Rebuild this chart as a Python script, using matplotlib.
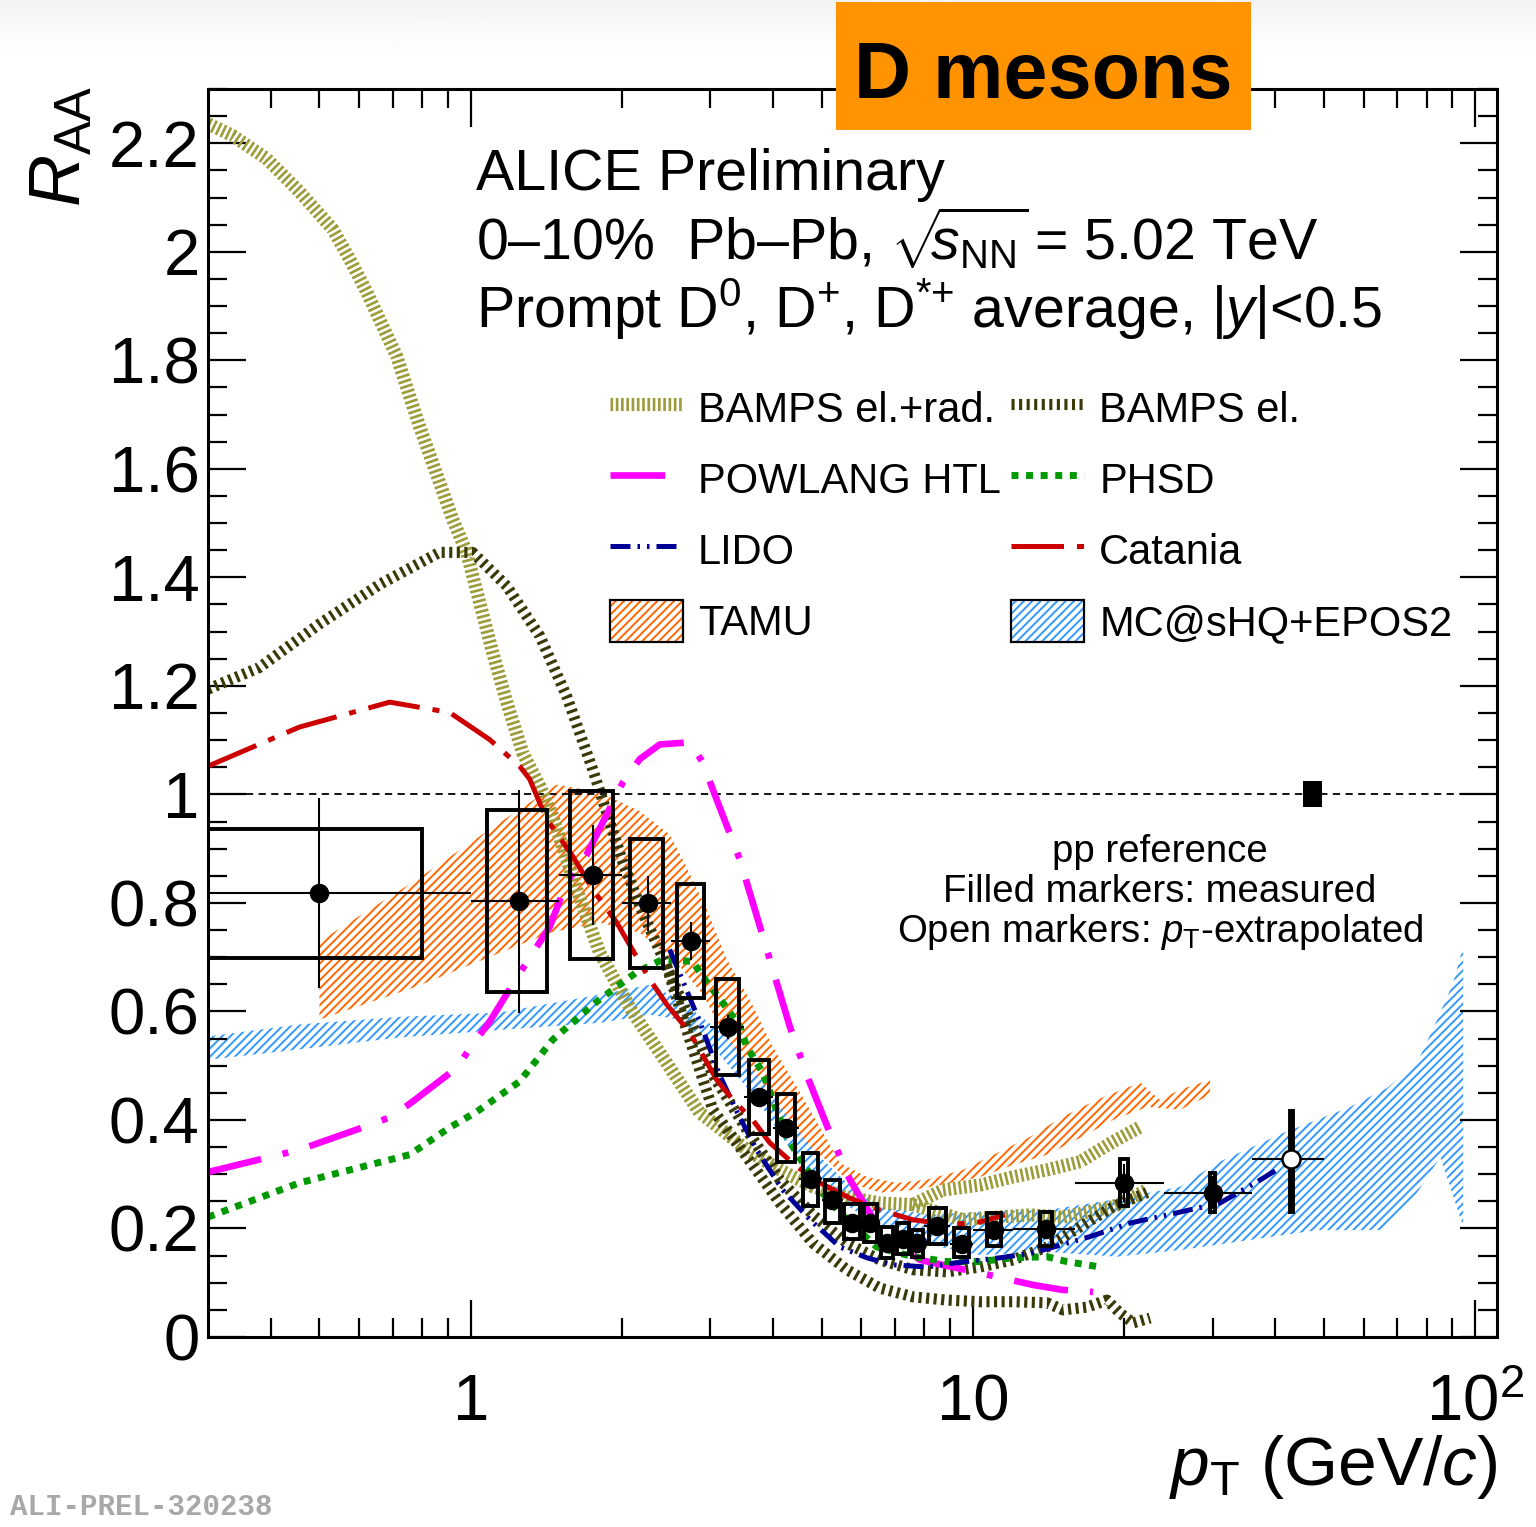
import numpy as np
import matplotlib
matplotlib.use("Agg")
import matplotlib.pyplot as plt
from matplotlib.patches import Patch, Rectangle
from matplotlib.legend_handler import HandlerTuple
from matplotlib.ticker import (FixedLocator, FixedFormatter, MultipleLocator,
                               NullFormatter, FuncFormatter)

plt.rcParams["font.family"] = ["Liberation Sans", "DejaVu Sans"]
plt.rcParams["mathtext.fontset"] = "custom"
plt.rcParams["mathtext.rm"] = "Liberation Sans"
plt.rcParams["mathtext.it"] = "Liberation Sans:italic"
plt.rcParams["mathtext.bf"] = "Liberation Sans:bold"
plt.rcParams["hatch.linewidth"] = 1.4

# ---------------- measured prompt D-meson R_AA (0-10% Pb-Pb) ----------------
pt_edges = [0, 1, 1.5, 2, 2.5, 3, 3.5, 4, 4.5, 5, 5.5, 6, 6.5, 7, 7.5, 8, 9,
            10, 12, 16, 24, 36, 50]
pt_centres = [0.5, 1.25, 1.75, 2.25, 2.75, 3.25, 3.75, 4.25, 4.75, 5.25, 5.75,
              6.25, 6.75, 7.25, 7.75, 8.5, 9.5, 11, 14, 20, 30, 43]
raa = [0.819, 0.803, 0.851, 0.799, 0.730, 0.572, 0.442, 0.386, 0.292, 0.252,
       0.211, 0.211, 0.174, 0.180, 0.174, 0.204, 0.172, 0.197, 0.199, 0.284,
       0.266, 0.328]
raa_stat = [0.175, 0.205, 0.092, 0.050, 0.035, 0.022, 0.016, 0.014, 0.012,
            0.010, 0.010, 0.010, 0.009, 0.009, 0.009, 0.010, 0.010, 0.012,
            0.015, 0.035, 0.030, 0.085]
raa_syst_lo = [0.699, 0.635, 0.696, 0.680, 0.625, 0.483, 0.375, 0.323, 0.242,
               0.211, 0.181, 0.176, 0.146, 0.153, 0.147, 0.172, 0.148, 0.167,
               0.167, 0.242, 0.231, 0.231]
raa_syst_hi = [0.937, 0.971, 1.006, 0.917, 0.834, 0.660, 0.511, 0.448, 0.339,
               0.290, 0.245, 0.245, 0.202, 0.211, 0.198, 0.238, 0.201, 0.229,
               0.231, 0.328, 0.303, 0.416]
pp_extrapolated = [False] * 21 + [True]
pp_norm_unc = 0.024

# ---------------- model calculations ----------------
bamps_rad_pt = [0.30, 0.336, 0.392, 0.456, 0.531, 0.574, 0.621, 0.668, 0.712,
                0.79, 0.921, 0.982, 1.042, 1.106, 1.180, 1.269, 1.373, 1.457,
                1.626, 1.807, 2.102, 2.457, 2.859, 3.035, 3.546, 4.126, 4.800,
                5.611, 6.529, 7.595, 8.714, 10.33, 12.01, 14.04, 16.34, 19.01,
                21.51]
bamps_rad_raa = [2.236, 2.214, 2.172, 2.111, 2.042, 1.987, 1.926, 1.863, 1.808,
                 1.68, 1.507, 1.446, 1.354, 1.262, 1.170, 1.077, 1.015, 0.959,
                 0.825, 0.708, 0.598, 0.505, 0.413, 0.395, 0.345, 0.308, 0.277,
                 0.258, 0.247, 0.244, 0.271, 0.280, 0.295, 0.308, 0.323, 0.360,
                 0.387]
bamps_rad_pt_2 = [7.595, 9.553, 11.16, 12.99, 15.11, 19.01, 22.21]
bamps_rad_raa_2 = [0.244, 0.216, 0.221, 0.225, 0.221, 0.240, 0.271]

bamps_el_pt = [0.30, 0.380, 0.500, 0.659, 0.867, 1.009, 1.180, 1.373, 1.553,
               1.750, 2.009, 2.201, 2.457, 2.731, 3.035, 3.546, 4.126, 4.800,
               5.611, 6.529, 7.595, 8.876, 10.33, 12.01, 14.04, 16.34, 19.01,
               22.21]
bamps_el_raa = [1.194, 1.234, 1.314, 1.387, 1.446, 1.446, 1.384, 1.292, 1.181,
                1.046, 0.875, 0.782, 0.683, 0.585, 0.483, 0.382, 0.290, 0.225,
                0.173, 0.142, 0.124, 0.120, 0.129, 0.142, 0.166, 0.203, 0.240,
                0.266]
bamps_el_pt_2 = [2.457, 2.731, 3.035, 3.546, 4.126, 4.800, 5.611, 6.529, 7.595,
                 8.876, 10.33, 12.01, 14.04, 15.11, 16.87, 18.49, 19.63, 20.84,
                 22.52]
bamps_el_raa_2 = [0.683, 0.548, 0.419, 0.332, 0.247, 0.173, 0.124, 0.090,
                  0.074, 0.068, 0.065, 0.065, 0.063, 0.050, 0.055, 0.068,
                  0.044, 0.026, 0.035]

powlang_pt = [0.300, 0.456, 0.609, 0.696, 0.767, 0.938, 1.009, 1.091, 1.235,
              1.437, 1.553, 1.702, 2.009, 2.171, 2.379, 2.731, 2.899, 3.035,
              3.435, 3.940, 4.320, 4.691, 5.190, 5.689, 6.529, 7.844, 10.33,
              13.17, 15.04, 17.34]
powlang_raa = [0.304, 0.345, 0.386, 0.406, 0.434, 0.496, 0.539, 0.581, 0.662,
               0.756, 0.838, 0.889, 1.022, 1.065, 1.092, 1.096, 1.059, 1.009,
               0.880, 0.696, 0.572, 0.478, 0.376, 0.290, 0.197, 0.142, 0.118,
               0.096, 0.087, 0.083]

phsd_pt = [0.300, 0.456, 0.756, 0.908, 1.028, 1.252, 1.457, 1.782, 2.138,
           2.412, 2.768, 2.899, 3.177, 3.435, 3.546, 3.816, 3.995, 4.254,
           4.957, 5.434, 6.432, 7.595, 8.876, 10.33, 12.01, 14.04, 15.37,
           17.64]
phsd_raa = [0.221, 0.284, 0.336, 0.386, 0.415, 0.471, 0.548, 0.618, 0.672,
            0.696, 0.692, 0.664, 0.616, 0.572, 0.535, 0.487, 0.437, 0.369,
            0.271, 0.229, 0.166, 0.148, 0.139, 0.139, 0.146, 0.148, 0.139,
            0.130]

lido_pt = [2.49, 2.69, 2.90, 3.13, 3.39, 3.71, 4.18, 4.74, 5.43, 6.15, 6.93,
           8.10, 9.29, 11.32, 13.17, 17.11, 20.55, 25.50, 31.05, 36.80, 40.89]
lido_raa = [0.714, 0.640, 0.566, 0.483, 0.415, 0.345, 0.271, 0.216, 0.166,
            0.146, 0.133, 0.129, 0.137, 0.146, 0.155, 0.185, 0.210, 0.229,
            0.247, 0.286, 0.312]

catania_pt = [0.300, 0.456, 0.690, 0.908, 1.091, 1.252, 1.311, 1.417, 1.597,
              1.750, 1.953, 2.273, 2.457, 2.731, 3.090, 3.326, 3.645, 3.940,
              4.461, 4.957, 5.689, 6.529, 7.595, 9.0, 10.33, 11.58]
catania_raa = [1.052, 1.124, 1.170, 1.151, 1.101, 1.052, 1.028, 0.954, 0.886,
               0.825, 0.764, 0.659, 0.613, 0.561, 0.474, 0.437, 0.400, 0.358,
               0.314, 0.284, 0.256, 0.234, 0.216, 0.207, 0.212, 0.225]

tamu_pt_hi = [0.5, 0.781, 1.142, 1.484, 1.807, 2.171, 2.491, 2.644, 2.953,
              3.236, 3.595, 3.995, 4.461, 4.957, 5.434, 6.151, 7.058, 8.097,
              9.553, 11.16, 12.99, 15.11, 17.64, 21.51, 23.58, 25.85, 29.66]
tamu_raa_hi = [0.729, 0.843, 0.948, 1.018, 1.004, 0.969, 0.926, 0.880, 0.788,
               0.696, 0.622, 0.535, 0.461, 0.387, 0.321, 0.295, 0.284, 0.290,
               0.308, 0.339, 0.369, 0.406, 0.437, 0.469, 0.437, 0.456, 0.474]
tamu_pt_lo = [0.5, 0.781, 1.142, 1.437, 1.807, 2.171, 2.608, 2.899, 3.236,
              3.595, 3.995, 4.523, 5.190, 5.689, 6.529, 7.595, 8.595, 10.33,
              12.01, 14.04, 16.34, 19.01, 22.21, 25.85, 29.66]
tamu_raa_lo = [0.585, 0.646, 0.708, 0.745, 0.764, 0.745, 0.683, 0.631, 0.548,
               0.474, 0.419, 0.363, 0.321, 0.284, 0.266, 0.271, 0.280, 0.295,
               0.317, 0.336, 0.367, 0.400, 0.424, 0.419, 0.446]

mcshq_pt_hi = [0.300, 0.456, 0.722, 1.142, 1.807, 2.273, 2.608, 3.281, 3.816,
               4.800, 5.611, 6.529, 8.209, 10.33, 14.04, 19.01, 25.85, 30.63,
               41.46, 56.36, 66.80, 76.64, 84.03, 90.42, 94.65]
mcshq_raa_hi = [0.554, 0.576, 0.590, 0.598, 0.631, 0.649, 0.622, 0.548, 0.469,
                0.345, 0.284, 0.240, 0.225, 0.231, 0.234, 0.253, 0.277, 0.321,
                0.376, 0.424, 0.459, 0.506, 0.585, 0.653, 0.720]
mcshq_pt_lo = [0.300, 0.456, 0.722, 1.142, 1.807, 2.273, 2.608, 3.133, 3.764,
               4.3, 4.8, 5.434, 6.529, 8.209, 10.33, 14.04, 19.36, 26.20, 35.63,
               48.45, 65.58, 76.64, 85.20, 94.65]
mcshq_raa_lo = [0.511, 0.530, 0.552, 0.566, 0.579, 0.594, 0.585, 0.520, 0.430,
                0.350, 0.295, 0.250, 0.205, 0.170, 0.151, 0.157, 0.148, 0.161,
                0.179, 0.197, 0.197, 0.266, 0.332, 0.203]

# ---------------- styles ----------------
C_BAMPS_RAD = "#9c9c3a"
C_BAMPS_EL = "#3a3a08"
C_POWLANG = "#ff00ff"
C_PHSD = "#009900"
C_LIDO = "#000099"
C_CATANIA = "#cc0000"
C_TAMU = "#ff6600"
C_MCSHQ = "#3399ff"
box_half_width = [0.3, 0.17, 0.17, 0.17, 0.17, 0.17, 0.17, 0.18, 0.17, 0.18,
                  0.2, 0.18, 0.19, 0.2, 0.2, 0.34, 0.33, 0.35, 0.37, 0.4, 0.4,
                  0.3]

W, H = 1536, 1527
fig = plt.figure(figsize=(W / 100, H / 100), dpi=100)

# faint grey haze along the top edge
bg = fig.add_axes([0, 1 - 55 / H, 1, 55 / H], zorder=-10)
bg.imshow(np.linspace(0.955, 1.0, 64)[:, None] * np.ones((1, 2)), cmap="gray",
          vmin=0, vmax=1, aspect="auto", extent=[0, 1, 0, 1])
bg.axis("off")

ax = fig.add_axes([208 / W, 1 - 1337 / H, 1289 / W, 1248 / H])
ax.set_xscale("log")
ax.set_xlim(0.3, 110.5)
ax.set_ylim(0, 2.3)

# model bands
ax.fill(tamu_pt_hi + tamu_pt_lo[::-1], tamu_raa_hi + tamu_raa_lo[::-1],
        facecolor="none", edgecolor=C_TAMU, hatch="////", lw=0, zorder=1)
ax.fill(mcshq_pt_hi + mcshq_pt_lo[::-1], mcshq_raa_hi + mcshq_raa_lo[::-1],
        facecolor="none", edgecolor=C_MCSHQ, hatch="////", lw=0, zorder=1)

ax.axhline(1.0, color="black", lw=1.3, ls=(0, (4, 3)), zorder=1.5)

# model curves
l_rad, = ax.plot(bamps_rad_pt, bamps_rad_raa, color=C_BAMPS_RAD, lw=9.5,
                 ls=(0, (0.2, 0.2)), zorder=2)
ax.plot(bamps_rad_pt_2, bamps_rad_raa_2, color=C_BAMPS_RAD, lw=9.5,
        ls=(0, (0.2, 0.2)), zorder=2)
l_el, = ax.plot(bamps_el_pt, bamps_el_raa, color=C_BAMPS_EL, lw=8,
                ls=(0, (0.28, 0.4)), zorder=2)
ax.plot(bamps_el_pt_2, bamps_el_raa_2, color=C_BAMPS_EL, lw=8,
        ls=(0, (0.28, 0.4)), zorder=2)
l_pow, = ax.plot(powlang_pt, powlang_raa, color=C_POWLANG, lw=4.8,
                 ls=(0, (8.2, 3.3, 0.9, 3.3)), zorder=2.2)
l_phsd, = ax.plot(phsd_pt, phsd_raa, color=C_PHSD, lw=5,
                  ls=(0, (1.0, 1.1)), zorder=2.2)
l_lido, = ax.plot(lido_pt, lido_raa, color=C_LIDO, lw=3.6,
                  ls=(0, (4, 1.4, 0.5, 1.4, 0.5, 1.4)), zorder=2.3)
l_cat, = ax.plot(catania_pt, catania_raa, color=C_CATANIA, lw=3.6,
                 ls=(0, (10.5, 2.6, 1.4, 2.6)), zorder=2.3)

# systematic boxes
ax.bar(pt_centres, np.array(raa_syst_hi) - np.array(raa_syst_lo),
       bottom=raa_syst_lo, width=2 * np.array(box_half_width), fill=False,
       edgecolor="black", lw=2.8, zorder=4)

# statistical uncertainties and bin widths
pc = np.array(pt_centres)
edges = np.array(pt_edges)
xerr = np.vstack([pc - edges[:-1], edges[1:] - pc])
ext = np.array(pp_extrapolated)
meas = ~ext
ax.errorbar(pc[meas], np.array(raa)[meas], yerr=np.array(raa_stat)[meas],
            xerr=xerr[:, meas], fmt="o", color="black", ms=13, elinewidth=1.5,
            capsize=0, zorder=5)
ax.errorbar(pc[ext], np.array(raa)[ext], yerr=np.array(raa_stat)[ext],
            xerr=xerr[:, ext], fmt="o", color="black", mfc="white", mew=1.8,
            ms=13, elinewidth=1.5, capsize=0, zorder=5)

# pp normalisation uncertainty
ax.bar([47.5], [2 * pp_norm_unc], bottom=1 - pp_norm_unc, width=4.1,
       color="black", zorder=4)

# axes styling
for s in ax.spines.values():
    s.set_linewidth(2.2)
ax.xaxis.set_major_locator(FixedLocator([1, 10, 100]))
ax.xaxis.set_major_formatter(FixedFormatter(["1", "10", "$10^{2}$"]))
ax.xaxis.set_minor_locator(FixedLocator([0.4, 0.5, 0.6, 0.7, 0.8, 0.9,
                                         2, 3, 4, 5, 6, 7, 8, 9,
                                         20, 30, 40, 50, 60, 70, 80, 90]))
ax.xaxis.set_minor_formatter(NullFormatter())
ax.yaxis.set_major_locator(MultipleLocator(0.2))
ax.yaxis.set_minor_locator(MultipleLocator(0.05))
ax.yaxis.set_major_formatter(FuncFormatter(lambda v, p: f"{v:.10g}" if v < 2.25 else ""))
ax.tick_params(which="both", direction="in", top=True, right=True, width=1.6)
ax.tick_params(which="major", length=27, labelsize=47)
ax.tick_params(which="minor", length=13.5)
ax.tick_params(axis="x", which="major", pad=26)
ax.tick_params(axis="y", which="major", pad=6)

# legend
h_tamu = (Patch(facecolor="none", edgecolor=C_TAMU, hatch="////", lw=0),
          Patch(facecolor="none", edgecolor="black", lw=1.6))
h_mcshq = (Patch(facecolor="none", edgecolor=C_MCSHQ, hatch="////", lw=0),
           Patch(facecolor="none", edgecolor="black", lw=1.6))
handles = [l_rad, l_pow, l_lido, h_tamu, l_el, l_phsd, l_cat, h_mcshq]
labels = ["BAMPS el.+rad.", "POWLANG HTL", "LIDO", "TAMU",
          "BAMPS el.", "PHSD", "Catania", "MC@sHQ+EPOS2"]
ax.legend(handles, labels, ncol=2, loc="upper left",
          bbox_to_anchor=(0.312, 0.7616), frameon=False, fontsize=30,
          handlelength=1.75, handleheight=1.2, handletextpad=0.36,
          columnspacing=0.25, labelspacing=0.64, borderpad=0, borderaxespad=0,
          handler_map={tuple: HandlerTuple(ndivide=1, pad=0)})

# annotations
fig.text(476 / W, 1 - 190 / H, "ALICE Preliminary", fontsize=41.3,
         va="baseline")
fig.text(476 / W, 1 - 260 / H,
         r"0–10%  Pb–Pb, $\sqrt{\!\!s_{\rm NN}}\!$ = 5.02 TeV",
         fontsize=41.3, va="baseline")
fig.text(476 / W, 1 - 328 / H,
         r"Prompt D$^{0}$, D$^{+}$, D$^{{*}{+}}$ average, |$y$|<0.5",
         fontsize=41.3, va="baseline")
fig.text(1160 / W, 1 - 862 / H, "pp reference", fontsize=27.6, ha="center",
         va="baseline")
fig.text(1160 / W, 1 - 902 / H, "Filled markers: measured", fontsize=27.6,
         ha="center", va="baseline")
fig.text(1160 / W, 1 - 942 / H, r"Open markers: $p_{\rm T}$-extrapolated",
         fontsize=27.6, ha="center", va="baseline")

fig.text(62 / W, 1 - 146 / H, r"$R_{\rm AA}$", rotation=90, fontsize=52,
         ha="center", va="center")
fig.text(1497 / W, 1 - 1485 / H, r"$p_{\rm T}$ (GeV/$c$)", fontsize=50,
         ha="right", va="baseline")

fig.add_artist(Rectangle((836 / W, 1 - 130 / H), 415 / W, 128 / H,
                         transform=fig.transFigure, facecolor="#ff9400",
                         edgecolor="none", zorder=5))
fig.text(1043 / W, 1 - 98 / H, "D mesons", fontsize=57, weight="bold",
         ha="center", va="baseline", zorder=6)
fig.text(10 / W, 1 - 1515 / H, "ALI-PREL-320238", family="Liberation Mono",
         weight="bold", color="#a8a8a8", fontsize=21, va="baseline")

fig.savefig("out.png", dpi=100)
